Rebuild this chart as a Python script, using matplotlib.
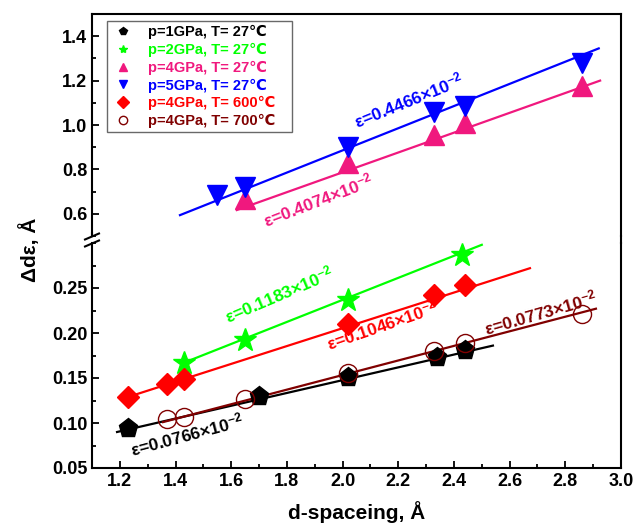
"""
Broken-axis plot of d-spacing vs. strain broadening
"""

import matplotlib
matplotlib.use('Agg')
import matplotlib.pyplot as plt
from matplotlib.lines import Line2D
from matplotlib.ticker import MultipleLocator

plt.rcParams['font.family'] = ['Liberation Sans', 'DejaVu Sans']
plt.rcParams['font.weight'] = 'bold'
plt.rcParams['mathtext.default'] = 'regular'

# ---- data ----
labels = ['p=1GPa, T= 27\u2103', 'p=2GPa, T= 27\u2103', 'p=4GPa, T= 27\u2103',
          'p=5GPa, T= 27\u2103', 'p=4GPa, T= 600\u2103', 'p=4GPa, T= 700\u2103']
colors = ['#000000', '#00FF00', '#F0187E', '#0000FF', '#FF0000', '#800000']

d_1gpa = [1.23, 1.70, 2.02, 2.34, 2.44]
v_1gpa = [0.095, 0.130, 0.151, 0.173, 0.181]

d_2gpa = [1.43, 1.65, 2.02, 2.43]
v_2gpa = [0.167, 0.192, 0.237, 0.287]

d_4gpa = [1.65, 2.02, 2.33, 2.44, 2.86]
v_4gpa = [0.666, 0.828, 0.954, 1.008, 1.174]

d_5gpa = [1.55, 1.65, 2.02, 2.33, 2.44, 2.86]
v_5gpa = [0.685, 0.72, 0.90, 1.057, 1.084, 1.278]

d_600 = [1.23, 1.37, 1.43, 2.02, 2.33, 2.44]
v_600 = [0.129, 0.143, 0.149, 0.210, 0.242, 0.253]

d_700 = [1.37, 1.43, 1.65, 2.02, 2.33, 2.44, 2.86]
v_700 = [0.105, 0.107, 0.127, 0.156, 0.180, 0.189, 0.221]

# linear fit lines (end points as drawn)
fit_1gpa = ([1.19, 2.54], [0.090, 0.186])
fit_2gpa = ([1.43, 2.50], [0.167, 0.298])
fit_4gpa = ([1.62, 2.925], [0.617, 1.20])
fit_5gpa = ([1.416, 2.92], [0.594, 1.345])
fit_600 = ([1.23, 2.673], [0.129, 0.272])
fit_700 = ([1.355, 2.91], [0.101, 0.227])

eps_text = ['0.0766', '0.1183', '0.4074', '0.4466', '0.1046', '0.0773']

fig = plt.figure(figsize=(6.33, 5.28), dpi=100)
W, H = 633, 528
left, right = 92 / W, 621 / W
ax_up = fig.add_axes([left, (H - 236) / H, right - left, 222 / H])
ax_lo = fig.add_axes([left, (H - 468) / H, right - left, 225 / H])

series = [
    (ax_lo, d_1gpa, v_1gpa, fit_1gpa, 'p', 14, colors[0], colors[0]),
    (ax_lo, d_2gpa, v_2gpa, fit_2gpa, '*', 17, colors[1], colors[1]),
    (ax_up, d_4gpa, v_4gpa, fit_4gpa, '^', 15, colors[2], colors[2]),
    (ax_up, d_5gpa, v_5gpa, fit_5gpa, 'v', 15, colors[3], colors[3]),
    (ax_lo, d_600, v_600, fit_600, 'D', 11, colors[4], colors[4]),
    (ax_lo, d_700, v_700, fit_700, 'o', 13, colors[5], 'none'),
]

for ax, d, v, fit, mk, ms, c, fc in series:
    ax.plot(fit[0], fit[1], '-', color=c, linewidth=1.6, zorder=2)
    ax.plot(d, v, linestyle='none', marker=mk, markersize=ms, color=c,
            markerfacecolor=fc, markeredgewidth=1.0, zorder=3)

# epsilon annotations: (axes, x, y, rotation)
ann = [
    (ax_lo, 1.44, 0.087, 15),
    (ax_lo, 1.77, 0.243, 23),
    (ax_up, 1.91, 0.662, 21),
    (ax_up, 2.235, 1.11, 22),
    (ax_lo, 2.14, 0.209, 19),
    (ax_lo, 2.71, 0.223, 16),
]
for (ax, x, y, rot), txt, c in zip(ann, eps_text, colors):
    ax.text(x, y, '\u03b5=' + txt + '\u00d710$^{-2}$', color=c, fontsize=12.5,
            fontweight='bold', rotation=rot, ha='center', va='center',
            rotation_mode='anchor')

for ax in (ax_up, ax_lo):
    ax.set_xlim(1.1, 3.0)
    ax.xaxis.set_major_locator(MultipleLocator(0.2))
    ax.xaxis.set_minor_locator(MultipleLocator(0.1))
    ax.tick_params(which='both', direction='in', top=False, right=False,
                   labelsize=13, width=1.3)
    ax.tick_params(which='major', length=5)
    ax.tick_params(which='minor', length=3)
    for s in ax.spines.values():
        s.set_linewidth(1.5)
    for lab in ax.get_xticklabels() + ax.get_yticklabels():
        lab.set_fontweight('bold')

ax_up.set_ylim(0.5, 1.5)
ax_up.set_yticks([0.6, 0.8, 1.0, 1.2, 1.4])
ax_up.yaxis.set_minor_locator(MultipleLocator(0.1))
ax_up.spines['bottom'].set_visible(False)
ax_up.tick_params(axis='x', which='both', bottom=False, labelbottom=False)

ax_lo.set_ylim(0.05, 0.3)
ax_lo.set_yticks([0.05, 0.10, 0.15, 0.20, 0.25])
ax_lo.yaxis.set_minor_locator(MultipleLocator(0.025))
ax_lo.spines['top'].set_visible(False)
ax_lo.set_yticklabels(['0.05', '0.10', '0.15', '0.20', '0.25'], fontweight='bold')
ax_lo.set_xticks([1.2, 1.4, 1.6, 1.8, 2.0, 2.2, 2.4, 2.6, 2.8, 3.0])
ax_lo.set_xticklabels(['1.2', '1.4', '1.6', '1.8', '2.0', '2.2', '2.4', '2.6', '2.8', '3.0'],
                      fontweight='bold')

# right spine continues across the gap, break marks on the left spine
fig.add_artist(Line2D([right, right], [(H - 243) / H, (H - 236) / H],
                      color='black', linewidth=1.5, transform=fig.transFigure))
fig.add_artist(Line2D([left, left], [(H - 236) / H, (H - 233) / H],
                      color='black', linewidth=1.5, transform=fig.transFigure))
for yb in (236.5, 243.5):
    fig.add_artist(Line2D([(92 - 7) / W, (92 + 7) / W],
                          [(H - yb - 3) / H, (H - yb + 3) / H],
                          color='black', linewidth=1.5, transform=fig.transFigure))

ax_lo.set_xlabel('d-spaceing, \u00c5', fontsize=15, fontweight='bold', labelpad=8)
fig.text(30 / W, (H - 250) / H, '\u0394d\u03b5, \u00c5', rotation=90, fontsize=15,
         fontweight='bold', ha='center', va='center')

handles = [Line2D([], [], linestyle='none', marker=s[4], markersize=6, color=s[6],
                  markerfacecolor=s[7]) for s in series]
leg = ax_up.legend(handles, [lb + '   ' for lb in labels], loc='upper left',
                   bbox_to_anchor=(0.028, 0.97),
                   borderaxespad=0, fontsize=10.5, frameon=True, fancybox=False,
                   edgecolor='#444444', labelspacing=0.25, handlelength=1.6,
                   handletextpad=0.9, borderpad=0.3)
leg.get_frame().set_linewidth(1.0)
for t, c in zip(leg.get_texts(), colors):
    t.set_color(c)
    t.set_fontweight('bold')

plt.savefig('out.png', dpi=100)
